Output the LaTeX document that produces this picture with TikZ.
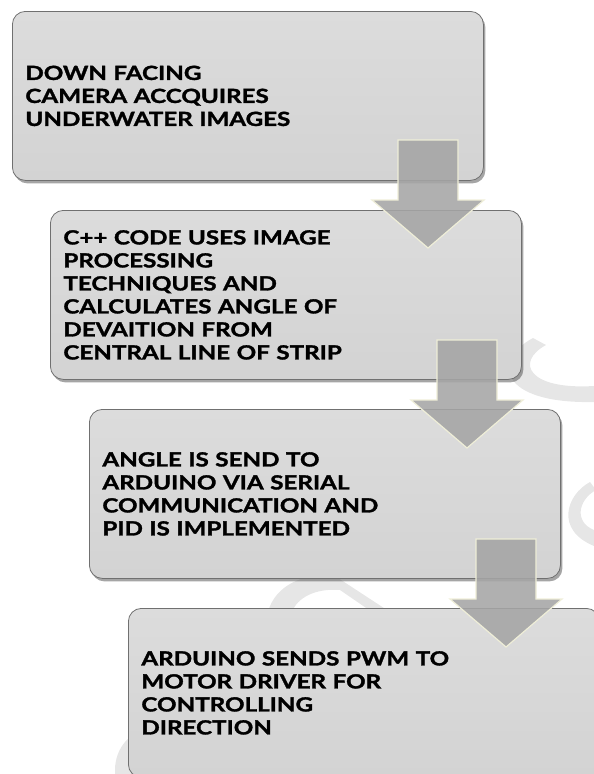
\documentclass[tikz,border=0pt]{standalone}
\usepackage{fontspec}
\setmainfont{Lato}[BoldFeatures={FakeStretch=1.24, FakeBold=1.6}]
\usetikzlibrary{shadows}
\definecolor{boxtop}{HTML}{DCDCDC}
\definecolor{boxbot}{HTML}{D3D3D3}
\definecolor{boxedge}{HTML}{707070}
\definecolor{arrowfill}{HTML}{A5A5A5}
\definecolor{arrowedge}{HTML}{EFEED8}
\definecolor{wmark}{HTML}{E6E6E6}
\tikzset{
  stepbox/.style={draw=boxedge, line width=0.8pt, rounded corners=13pt,
    top color=boxtop, bottom color=boxbot,
    drop shadow={shadow xshift=2pt, shadow yshift=-3pt, opacity=0.5, fill=black!70},
    minimum width=471pt, minimum height=169pt, anchor=north west,
    inner xsep=13pt, inner ysep=0pt, text width=445pt, align=left,
    font=\bfseries\fontsize{19.5}{23}\selectfont},
  arrowshape/.style={fill=arrowfill, fill opacity=0.88, draw=arrowedge, line width=1.2pt, line join=miter},
  watermark/.style={fill=wmark, draw=none},
  pics/bigarrow/.style={code={
    \path[arrowshape] (-30,0) -- (30,0) -- (30,60) -- (56,60) -- (0,108) -- (-56,60) -- (-30,60) -- cycle;
  }}
}
\begin{document}
\begin{tikzpicture}[x=1pt,y=-1pt]
\useasboundingbox (0,0) rectangle (594,774);
% faint background watermark shapes
\path[watermark] (533,338) .. controls (492,360) and (498,404) .. (594,402)
  -- (594,386) .. controls (528,390) and (515,362) .. (546,345) -- cycle;
\path[watermark] (590,482) .. controls (566,495) and (555,530) .. (594,546)
  -- (594,530) .. controls (574,522) and (578,500) .. (596,490) -- cycle;
\path[watermark] (268,612) .. controls (275,585) and (305,572) .. (335,576)
  -- (390,612) -- (372,612) -- (340,590) .. controls (315,588) and (297,598) .. (292,612) -- cycle;
\path[watermark] (150,770) ellipse [x radius=35, y radius=40];
% step boxes
\node[stepbox] (b1) at (12,11) {DOWN FACING\\CAMERA ACCQUIRES\\UNDERWATER IMAGES};
\node[stepbox] (b2) at (50,210) {C++ CODE USES IMAGE\\PROCESSING\\TECHNIQUES AND\\CALCULATES ANGLE OF\\DEVAITION FROM\\CENTRAL LINE OF STRIP};
\node[stepbox] (b3) at (89,409) {ANGLE IS SEND TO\\ARDUINO VIA SERIAL\\COMMUNICATION AND\\PID IS IMPLEMENTED};
\node[stepbox] (b4) at (128,608) {ARDUINO SENDS PWM TO\\MOTOR DRIVER FOR\\CONTROLLING\\DIRECTION};
% down arrows between steps
\pic (a1) at (428,140) {bigarrow};
\pic (a2) at (467,340) {bigarrow};
\pic (a3) at (506,539) {bigarrow};
\end{tikzpicture}
\end{document}
